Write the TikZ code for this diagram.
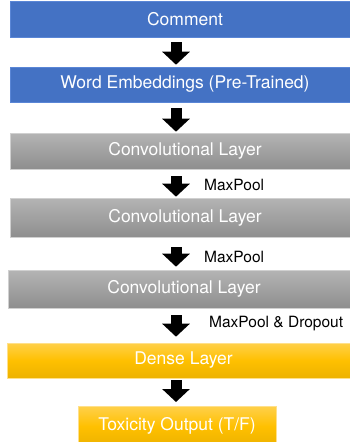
\documentclass[tikz,border=0pt]{standalone}
\usepackage{fontspec}
\setmainfont{TeX Gyre Heros}
\usetikzlibrary{arrows.meta,calc}
\definecolor{cblue}{HTML}{4472C4}
\definecolor{cblueedge}{HTML}{5A86D6}
\definecolor{gtop}{HTML}{B4B4B4}
\definecolor{gbot}{HTML}{8E8E8E}
\definecolor{gedge}{HTML}{D0D0D0}
\definecolor{ytop}{HTML}{FFD04A}
\definecolor{ymid}{HTML}{FFC000}
\definecolor{ybot}{HTML}{EDB200}
\definecolor{yedge}{HTML}{FFE08A}
\tikzset{
  basebox/.style={inner sep=0pt, text=white, font=\fontsize{17.5}{20}\selectfont, line width=0.6pt},
  bluebox/.style={basebox, fill=cblue, draw=cblueedge},
  graybox/.style={basebox, top color=gtop, bottom color=gbot, draw=gedge},
  yellowbox/.style={basebox, top color=ytop, bottom color=ybot, middle color=ymid, draw=yedge},
  blockarrow/.style={line width=11pt, line cap=butt, -{Triangle[width=27pt,length=13pt]}},
  lbl/.style={anchor=west, inner sep=0pt, font=\fontsize{15.5}{18}\selectfont, text=black}
}
\begin{document}
\begin{tikzpicture}
\useasboundingbox (0,0) rectangle (349pt,-442pt);
\coordinate (ax) at (176pt,0);
\node[bluebox, minimum width=350pt, minimum height=36pt] (c) at (185pt,-19pt) {Comment};
\node[bluebox, minimum width=350pt, minimum height=35pt] (e) at (185pt,-84.5pt) {Word Embeddings (Pre-Trained)};
\node[graybox, minimum width=350pt, minimum height=36pt] (c1) at (185pt,-151pt) {Convolutional Layer};
\node[graybox, minimum width=350pt, minimum height=39pt] (c2) at (185pt,-217.5pt) {Convolutional Layer};
\node[graybox, minimum width=352pt, minimum height=38pt] (c3) at (184pt,-289pt) {Convolutional Layer};
\node[yellowbox, minimum width=353pt, minimum height=35pt] (d) at (183.5pt,-360.5pt) {Dense Layer};
\node[yellowbox, minimum width=198pt, minimum height=40pt, anchor=north] (t) at (177pt,-406pt) {\raisebox{2pt}{Toxicity Output (T/F)}};
\draw[blockarrow, shorten <=5pt, shorten >=2pt] (c.south -| ax) -- (e.north -| ax);
\draw[blockarrow, shorten <=6pt, shorten >=1pt] (e.south -| ax) -- (c1.north -| ax);
\draw[blockarrow, shorten <=7pt, shorten >=1pt] (c1.south -| ax) -- (c2.north -| ax);
\draw[blockarrow, shorten <=10pt, shorten >=3pt] (c2.south -| ax) -- (c3.north -| ax);
\draw[blockarrow, shorten <=7pt, shorten >=6pt] (c3.south -| ax) -- (d.north -| ax);
\draw[blockarrow, shorten <=2pt, shorten >=4pt] (d.south -| ax) -- (t.north -| ax);
\node[lbl] (m1) at (204pt,-185pt) {MaxPool};
\node[lbl] (m2) at (204pt,-257pt) {MaxPool};
\node[lbl] (m3) at (209pt,-324pt) {MaxPool \& Dropout};
\end{tikzpicture}
\end{document}
